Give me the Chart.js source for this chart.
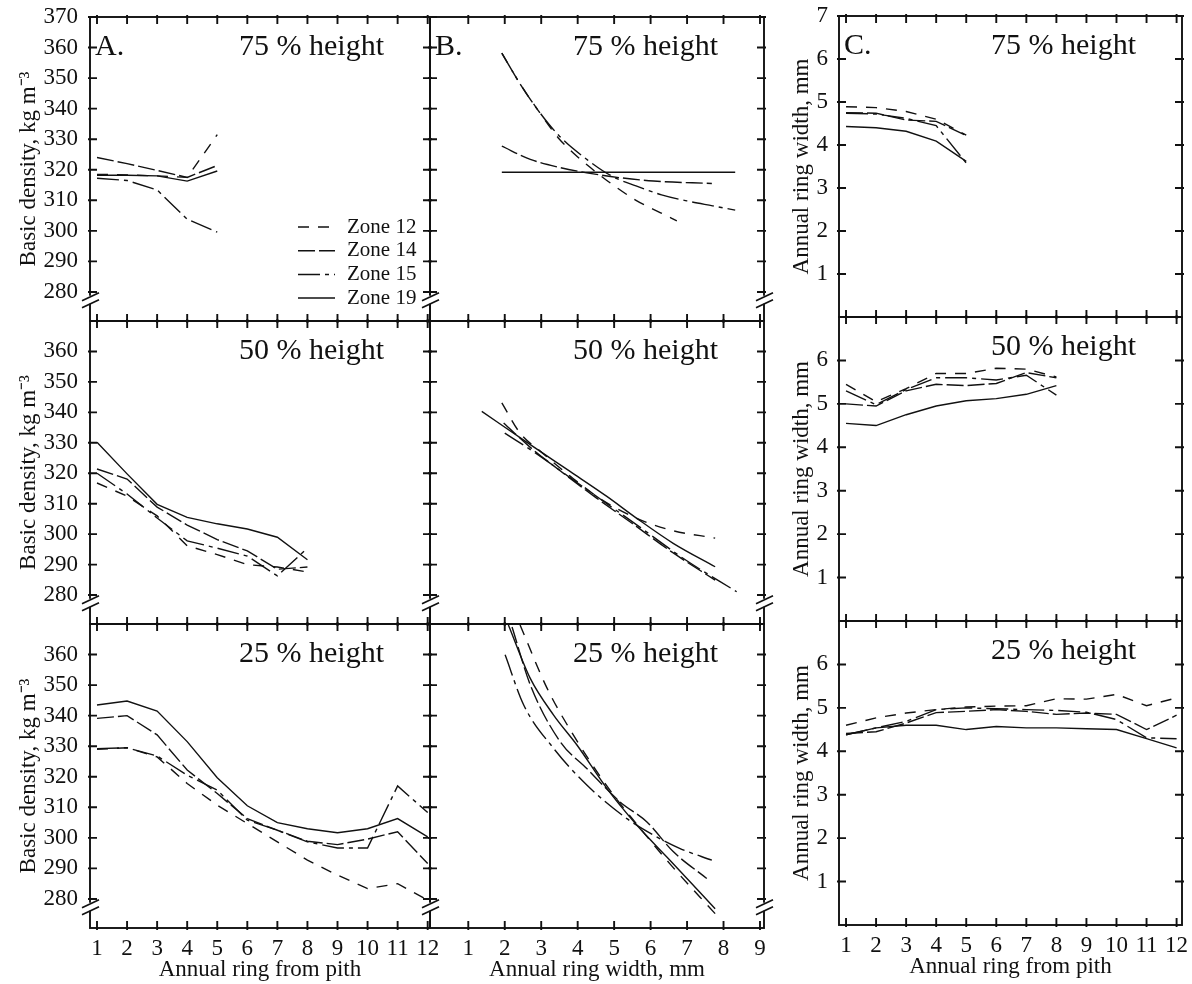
<!DOCTYPE html>
<html>
<head>
<meta charset="utf-8">
<script src="https://cdn.jsdelivr.net/npm/chart.js@4.4.1/dist/chart.umd.min.js"></script>
<style>
  body { margin: 0; background: #fff; width: 1192px; height: 984px; position: relative; overflow: hidden; }
  .panel { position: absolute; }
</style>
</head>
<body>
<script>
// ---- datos ----
const zoneNames = ['Zone 12', 'Zone 14', 'Zone 15', 'Zone 19'];

const rings5 = [1, 2, 3, 4, 5];
const rings8 = [1, 2, 3, 4, 5, 6, 7, 8];
const rings12 = [1, 2, 3, 4, 5, 6, 7, 8, 9, 10, 11, 12];

// ejes: etiquetas de ticks
const ringTicks = [1, 2, 3, 4, 5, 6, 7, 8, 9, 10, 11, 12];
const ringWidthTicks = [1, 2, 3, 4, 5, 6, 7, 8, 9];
const densTicksTop = [280, 290, 300, 310, 320, 330, 340, 350, 360, 370];
const densTicks = [280, 290, 300, 310, 320, 330, 340, 350, 360];
const mmTicksTop = [1, 2, 3, 4, 5, 6, 7];
const mmTicks = [1, 2, 3, 4, 5, 6];

// A. densidad básica por anillo (orden: zona 12, 14, 15, 19)
const densRing75 = [
  [318.5, 318.3, 318.0, 317.5, 331.5],
  [324.0, 322.0, 319.8, 317.5, 321.4],
  [317.2, 316.5, 313.4, 303.8, 299.6],
  [318.2, 318.2, 318.0, 316.3, 319.6],
];
const densRing50 = [
  [316.8, 312.5, 306.0, 296.2, 293.3, 290.0, 289.2, 287.6],
  [321.4, 318.1, 308.9, 303.0, 298.2, 294.5, 288.5, 289.2],
  [320.0, 313.2, 305.3, 297.8, 295.4, 292.8, 286.3, 295.4],
  [330.2, 319.8, 309.8, 305.5, 303.4, 301.7, 299.0, 291.6],
];
const densRing25 = [
  [329.0, 329.5, 326.5, 317.8, 310.7, 304.7, 298.7, 292.7, 287.8, 283.4, 285.0, 279.6],
  [339.1, 340.0, 333.7, 322.2, 314.5, 306.3, 302.5, 298.9, 297.8, 299.6, 302.0, 291.6],
  [329.2, 329.5, 326.8, 320.5, 315.6, 305.8, 302.5, 298.7, 296.7, 296.7, 317.0, 308.3],
  [343.5, 344.8, 341.5, 331.5, 319.7, 310.5, 305.0, 303.0, 301.7, 303.0, 306.3, 300.3],
];

// B. densidad vs ancho de anillo: pares [ancho mm, densidad]
const densWidth75 = [
  [[1.92, 358.2], [2.4, 348.5], [2.9, 339.7], [3.5, 330.0], [3.88, 325.5], [4.34, 320.8], [4.8, 316.5], [5.6, 310.0], [6.26, 306.0], [6.72, 303.3]],
  [[1.92, 327.7], [2.7, 323.4], [3.52, 320.7], [4.25, 319.0], [5.16, 317.4], [6.08, 316.3], [7.68, 315.5]],
  [[1.92, 358.2], [2.4, 348.5], [2.9, 339.7], [3.5, 331.0], [4.25, 323.4], [4.94, 317.9], [5.6, 314.7], [6.3, 311.8], [7.0, 309.8], [7.7, 308.2], [8.32, 306.8]],
  [[1.92, 319.2], [8.32, 319.2]],
];
const densWidth50 = [
  [[1.92, 343.1], [2.42, 333.2], [3.0, 327.0], [3.8, 319.0], [4.7, 311.0], [5.62, 305.2], [6.53, 301.4], [7.77, 298.7]],
  [[1.97, 336.5], [2.7, 328.5], [3.5, 321.0], [4.5, 312.0], [5.5, 303.5], [6.6, 294.0], [7.77, 284.9]],
  [[2.0, 333.2], [2.8, 327.0], [3.8, 318.5], [4.8, 310.0], [5.8, 301.5], [6.9, 292.0], [8.36, 281.1]],
  [[1.37, 340.3], [2.7, 329.4], [3.79, 320.6], [4.8, 312.4], [5.62, 305.2], [6.62, 297.0], [7.77, 289.3]],
];
const densWidth25 = [
  [[2.42, 369.7], [3.16, 349.0], [3.88, 333.7], [4.8, 317.0], [5.62, 304.5], [6.53, 291.5], [7.77, 275.2]],
  [[2.2, 369.0], [2.7, 350.1], [3.52, 331.5], [4.25, 322.7], [5.16, 311.8], [5.9, 305.2], [6.62, 295.5], [7.54, 286.7]],
  [[2.01, 359.9], [2.52, 343.5], [3.34, 329.3], [4.25, 317.3], [5.35, 306.3], [6.08, 300.9], [6.81, 296.5], [7.68, 292.7]],
  [[2.1, 369.7], [2.7, 352.2], [3.34, 340.2], [3.98, 330.4], [4.8, 316.2], [5.62, 304.2], [6.53, 292.7], [7.77, 276.8]],
];

// C. ancho de anillo (mm) por anillo
const widthRing75 = [
  [4.89, 4.87, 4.78, 4.60, 4.23],
  [4.75, 4.74, 4.58, 4.55, 4.22],
  [4.74, 4.72, 4.62, 4.45, 3.58],
  [4.43, 4.40, 4.32, 4.09, 3.62],
];
const widthRing50 = [
  [5.45, 5.05, 5.35, 5.70, 5.70, 5.82, 5.80, 5.62],
  [5.00, 4.95, 5.30, 5.45, 5.42, 5.47, 5.72, 5.60],
  [5.30, 4.98, 5.33, 5.60, 5.60, 5.55, 5.66, 5.20],
  [4.55, 4.50, 4.75, 4.95, 5.07, 5.12, 5.22, 5.42],
];
const widthRing25 = [
  [4.60, 4.77, 4.88, 4.96, 5.02, 5.04, 5.05, 5.21, 5.20, 5.31, 5.05, 5.23],
  [4.41, 4.45, 4.65, 4.89, 4.92, 4.96, 4.92, 4.85, 4.88, 4.85, 4.50, 4.83],
  [4.38, 4.54, 4.69, 4.96, 5.00, 4.98, 4.96, 4.94, 4.90, 4.73, 4.31, 4.29],
  [4.38, 4.54, 4.60, 4.60, 4.50, 4.57, 4.54, 4.54, 4.52, 4.50, 4.29, 4.08],
];

// ---- estilo / maquetación ----
const SERIF = "'Liberation Serif', 'Times New Roman', serif";
const INK = '#111';
const zoneDash = [[11, 9], [17, 4], [22, 5, 4, 5], []];

const TM = 30, RM = 30;
const cols = {
  A: { l: 90, r: 430, lm: 90, xMin: 0.767, xMax: 12.077, yMin: 270.5, yMax: 370, xTicks: ringTicks,
       yTitle: 'Basic density, kg m⁻³', xTitle: 'Annual ring from pith', tickPad: 12, titlePad: 15, xPad: 7 },
  B: { l: 430, r: 764, lm: 30, xMin: -0.05, xMax: 9.11, yMin: 270.5, yMax: 370, xTicks: ringWidthTicks,
       yTitle: '', xTitle: 'Annual ring width, mm', tickPad: 12, titlePad: 0, xPad: 7 },
  C: { l: 839, r: 1182, lm: 74, xMin: 0.766, xMax: 12.18, yMin: 0, yMax: 7, xTicks: ringTicks,
       yTitle: 'Annual ring width, mm', xTitle: 'Annual ring from pith', tickPad: 11, titlePad: 23, xPad: 7 },
};
const rowsAB = [[17, 321], [321, 624], [624, 928]];
const rowsC = [[16, 317], [317, 621], [621, 925]];

const panels = [
  { col: 'A', row: 0, series: densRing75, xs: rings5, yTicks: densTicksTop, letter: 'A.', label: '75 % height', legend: true, breaks: ['left'] },
  { col: 'B', row: 0, curves: densWidth75, yTicks: densTicksTop, letter: 'B.', label: '75 % height', breaks: ['left', 'right'] },
  { col: 'C', row: 0, series: widthRing75, xs: rings5, yTicks: mmTicksTop, letter: 'C.', label: '75 % height' },
  { col: 'A', row: 1, series: densRing50, xs: rings8, yTicks: densTicks, label: '50 % height', breaks: ['left'] },
  { col: 'B', row: 1, curves: densWidth50, yTicks: densTicks, label: '50 % height', breaks: ['left', 'right'] },
  { col: 'C', row: 1, series: widthRing50, xs: rings8, yTicks: mmTicks, label: '50 % height' },
  { col: 'A', row: 2, series: densRing25, xs: rings12, yTicks: densTicks, label: '25 % height', breaks: ['left'] },
  { col: 'B', row: 2, curves: densWidth25, yTicks: densTicks, label: '25 % height', breaks: ['left', 'right'] },
  { col: 'C', row: 2, series: widthRing25, xs: rings12, yTicks: mmTicks, label: '25 % height' },
];

// marco con ticks cruzados, cortes de eje, rótulos y leyenda
const deco = {
  id: 'deco',
  afterDatasetsDraw(chart, args, o) {
    const { ctx, chartArea: a, scales: { x, y } } = chart;
    ctx.save();
    ctx.strokeStyle = INK;
    ctx.lineWidth = 1.9;
    ctx.setLineDash([]);
    ctx.strokeRect(a.left, a.top, a.right - a.left, a.bottom - a.top);
    ctx.beginPath();
    x.ticks.forEach((t) => {
      const px = x.getPixelForValue(t.value);
      ctx.moveTo(px, a.top - 2); ctx.lineTo(px, a.top + 7);
      ctx.moveTo(px, a.bottom + 2); ctx.lineTo(px, a.bottom - 7);
    });
    y.ticks.forEach((t) => {
      const py = y.getPixelForValue(t.value);
      ctx.moveTo(a.left - 2, py); ctx.lineTo(a.left + 7, py);
      ctx.moveTo(a.right + 2, py); ctx.lineTo(a.right - 7, py);
    });
    ctx.stroke();

    (o.breaks || []).forEach((side) => {
      const bx = side === 'left' ? a.left : a.right;
      const by = y.getPixelForValue(276.8);
      ctx.fillStyle = '#fff';
      ctx.fillRect(bx - 3, by - 6, 6, 8);
      ctx.lineWidth = 1.7;
      ctx.beginPath();
      ctx.moveTo(bx - 8, by - 1); ctx.lineTo(bx + 9, by - 9);
      ctx.moveTo(bx - 8, by + 6); ctx.lineTo(bx + 9, by - 2);
      ctx.stroke();
    });

    ctx.fillStyle = INK;
    ctx.font = `30px ${SERIF}`;
    ctx.textBaseline = 'alphabetic';
    if (o.letter) { ctx.textAlign = 'left'; ctx.fillText(o.letter, a.left + 5, a.top + 38); }
    ctx.textAlign = 'right';
    ctx.fillText(o.label, a.right - 46, a.top + 38);

    if (o.legend) {
      ctx.font = `21px ${SERIF}`;
      ctx.textBaseline = 'middle';
      ctx.textAlign = 'left';
      chart.data.datasets.forEach((ds, i) => {
        const ly = a.bottom - 94 + i * 23.7;
        ctx.lineWidth = 1.5;
        ctx.setLineDash(ds.borderDash || []);
        ctx.beginPath(); ctx.moveTo(a.right - 132, ly); ctx.lineTo(a.right - 95, ly); ctx.stroke();
        ctx.setLineDash([]);
        ctx.fillText(ds.label, a.right - 83, ly);
      });
    }
    ctx.restore();
  },
};

const font = { family: SERIF, size: 23 };

panels.forEach((p) => {
  const c = cols[p.col];
  const [top, bottom] = (p.col === 'C' ? rowsC : rowsAB)[p.row];
  const lastRow = p.row === 2;
  const bm = lastRow ? 56 : 30;
  const div = document.createElement('div');
  div.className = 'panel';
  div.style.left = (c.l - c.lm) + 'px';
  div.style.top = (top - TM) + 'px';
  div.style.width = (c.r - c.l + c.lm + RM) + 'px';
  div.style.height = (bottom - top + TM + bm) + 'px';
  const canvas = document.createElement('canvas');
  div.appendChild(canvas);
  document.body.appendChild(div);

  const smooth = !!p.curves;
  const datasets = (p.curves || p.series).map((s, i) => ({
    label: zoneNames[i],
    data: smooth ? s.map(([wx, wy]) => ({ x: wx, y: wy })) : s.map((v, j) => ({ x: p.xs[j], y: v })),
    borderColor: INK,
    borderWidth: 1.4,
    borderDash: zoneDash[i],
    pointRadius: 0,
    fill: false,
    tension: smooth ? 0.4 : 0,
    cubicInterpolationMode: smooth ? 'monotone' : 'default',
  }));

  const showY = p.col !== 'B';
  new Chart(canvas, {
    type: 'line',
    data: { datasets },
    plugins: [deco],
    options: {
      responsive: true, maintainAspectRatio: false, animation: false, events: [],
      layout: { padding: { top: TM, right: RM, bottom: 0, left: 0 } },
      plugins: {
        legend: { display: false }, tooltip: { enabled: false },
        deco: { letter: p.letter, label: p.label, legend: p.legend, breaks: p.breaks },
      },
      scales: {
        x: {
          type: 'linear', min: c.xMin, max: c.xMax,
          grid: { display: false, drawTicks: false }, border: { display: false },
          afterBuildTicks: (s) => { s.ticks = c.xTicks.map((v) => ({ value: v })); },
          afterFit: (s) => { s.height = bm; },
          ticks: { display: lastRow, padding: c.xPad, font, color: INK, autoSkip: false, maxRotation: 0 },
          title: { display: lastRow, text: c.xTitle, font, color: INK, padding: { top: 0, bottom: 0 } },
        },
        y: {
          type: 'linear', min: c.yMin, max: c.yMax,
          grid: { display: false, drawTicks: false }, border: { display: false },
          afterBuildTicks: (s) => { s.ticks = p.yTicks.map((v) => ({ value: v })); },
          afterFit: (s) => { s.width = c.lm; },
          ticks: { display: showY, padding: c.tickPad, font, color: INK, autoSkip: false },
          title: { display: showY, text: c.yTitle, font, color: INK, padding: { top: c.titlePad, bottom: 0 } },
        },
      },
    },
  });
});
</script>
</body>
</html>
